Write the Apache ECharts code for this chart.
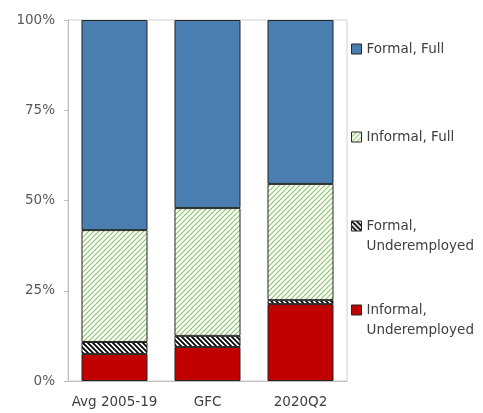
<!DOCTYPE html>
<html><head><meta charset="utf-8">
<script src="https://cdn.jsdelivr.net/npm/echarts@6/dist/echarts.min.js"></script>
<style>html,body{margin:0;padding:0;background:#fff}#c{width:483px;height:413px}</style>
</head><body><div id="c"></div>
<script>
var categories = ['Avg 2005-19', 'GFC', '2020Q2'];
var informalUnder = [7.5, 9.4, 21.3];
var formalUnder = [3.3, 3.1, 1.1];
var informalFull = [31.0, 35.4, 32.2];
var formalFull = [58.2, 52.1, 45.4];
var yTicks = [0, 25, 50, 75, 100];

function makePattern(size, color, lw, dir) {
  var c = document.createElement('canvas');
  c.width = size; c.height = size;
  var g = c.getContext('2d');
  g.fillStyle = '#ffffff'; g.fillRect(0, 0, size, size);
  g.strokeStyle = color; g.lineWidth = lw;
  g.beginPath();
  if (dir === '/') {
    g.moveTo(-size, size); g.lineTo(size, -size);
    g.moveTo(0, size); g.lineTo(size, 0);
    g.moveTo(0, 2 * size); g.lineTo(2 * size, 0);
  } else {
    g.moveTo(-size, 0); g.lineTo(size, 2 * size);
    g.moveTo(0, 0); g.lineTo(size, size);
    g.moveTo(0, -size); g.lineTo(2 * size, size);
  }
  g.stroke();
  return { image: c, repeat: 'repeat' };
}
var greenPat = makePattern(5, '#8cc46a', 1.2, '/');
var blackPat = makePattern(5, '#000000', 1.8, '\\');

var font = 'DejaVu Sans';
var chart = echarts.init(document.getElementById('c'), null, { renderer: 'canvas' });
var border = { borderColor: '#262626', borderWidth: 1 };
function ser(name, data, color) {
  return { name: name, type: 'bar', stack: 's', data: data, barWidth: '71%',
    itemStyle: Object.assign({ color: color }, border) };
}
var tallIcon = 'path://M0,0h10v10h-10z M0,30';
function leg(name, top, icon) {
  return { data: [name], orient: 'vertical', left: 351, top: top, itemWidth: 10,
    itemHeight: icon ? 30 : 10, icon: icon || 'rect',
    itemGap: 0, selectedMode: false, padding: 0,
    itemStyle: { borderColor: '#262626', borderWidth: 1 },
    textStyle: { fontFamily: font, fontSize: 13.5, color: '#404040', lineHeight: 20 } };
}
chart.setOption({
  animation: false,
  grid: { left: 68, right: 136, top: 20, bottom: 32, show: true, borderColor: '#d0d0d0', borderWidth: 1 },
  legend: [
    leg('Formal, Full', 39),
    leg('Informal, Full', 127),
    leg('Formal,\nUnderemployed', 216, tallIcon),
    leg('Informal,\nUnderemployed', 300, tallIcon)
  ],
  xAxis: { type: 'category', data: categories,
    axisLine: { lineStyle: { color: '#bfbfbf' } },
    axisTick: { inside: true, length: 5, lineStyle: { color: '#bfbfbf' } },
    axisLabel: { interval: 0, margin: 14, fontFamily: font, fontSize: 13.5, color: '#404040' } },
  yAxis: { type: 'value', min: 0, max: 100, interval: 25,
    axisLine: { show: true, lineStyle: { color: '#bfbfbf' } },
    axisTick: { show: true, length: 4, lineStyle: { color: '#bfbfbf' } },
    splitLine: { show: false },
    axisLabel: { margin: 13, fontFamily: font, fontSize: 13.5, color: '#595959',
      formatter: function (v) { return yTicks.indexOf(v) >= 0 ? v + '%' : ''; } } },
  series: [
    ser('Informal,\nUnderemployed', informalUnder, '#c00000'),
    ser('Formal,\nUnderemployed', formalUnder, blackPat),
    ser('Informal, Full', informalFull, greenPat),
    ser('Formal, Full', formalFull, '#4a7eb0')
  ]
});
</script></body></html>
